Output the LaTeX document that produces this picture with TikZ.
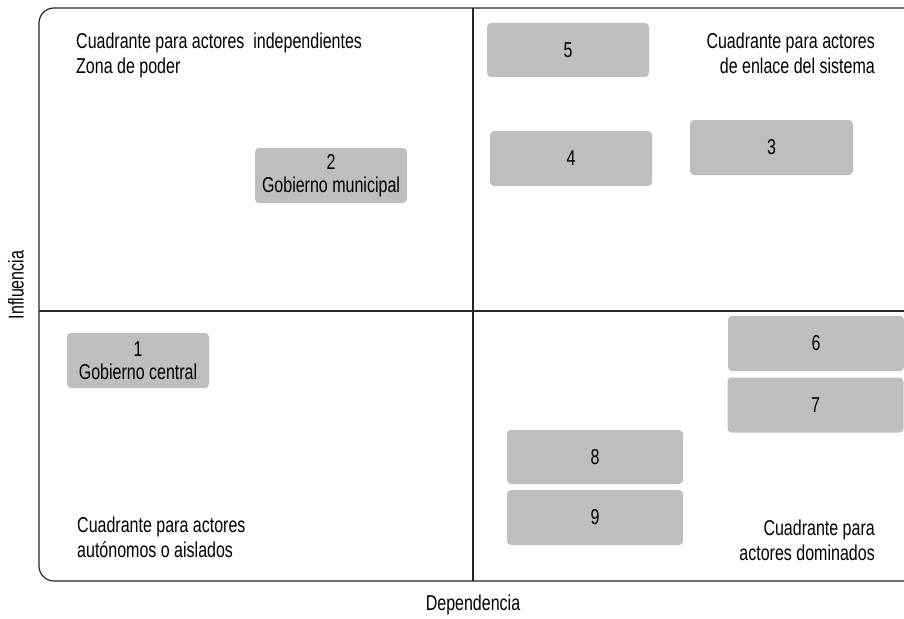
\documentclass[tikz,border=0pt]{standalone}
\usepackage{fontspec}
\setmainfont[FakeStretch=0.745]{Liberation Sans}
\begin{document}
\begin{tikzpicture}[x=1pt,y=-1pt,
  actor/.style={fill=boxgray,rounded corners=4pt,draw=none,inner sep=0pt,
    align=center,font=\fontsize{21.5}{23.5}\selectfont},
  lbl/.style={inner sep=0pt,font=\fontsize{21.5}{24.5}\selectfont},
  frame/.style={draw=black!85,line width=1.2pt}]
\definecolor{boxgray}{HTML}{BCBEC0}
\useasboundingbox (0,0) rectangle (904,618);
\begin{scope}
\clip (0,0) rectangle (904,618);
% frame
\draw[frame,rounded corners=15pt] (39,8) rectangle (918,581);
\coordinate (vtop) at (473,8);
\coordinate (vbot) at (473,581);
\coordinate (hl) at (39,311);
\coordinate (hr) at (918,311);
\draw[frame] (vtop) -- (vbot);
\draw[frame] (hl) -- (hr);
\end{scope}
% actors
\node[actor,minimum width=162pt,minimum height=54pt] (a5) at (568,50) {5};
\node[actor,minimum width=162pt,minimum height=55pt] (a4) at (571,158.5) {4};
\node[actor,minimum width=163pt,minimum height=55pt] (a3) at (771.5,147.5) {3};
\node[actor,minimum width=152pt,minimum height=55pt] (a2) at (331,175.5) {2\\Gobierno municipal};
\node[actor,minimum width=142pt,minimum height=55pt] (a1) at (138,360.5) {1\\Gobierno central};
\node[actor,minimum width=176pt,minimum height=55pt] (a6) at (816,343.5) {6};
\node[actor,minimum width=176pt,minimum height=55pt] (a7) at (815.5,405) {7};
\node[actor,minimum width=176pt,minimum height=54pt] (a8) at (595,457) {8};
\node[actor,minimum width=176pt,minimum height=55pt] (a9) at (595,517.5) {9};
% quadrant labels
\node[lbl,anchor=north west,align=left] (q1) at (76,33) {Cuadrante para actores\ \ independientes\\Zona de poder};
\node[lbl,anchor=north east,align=right] (q2) at (875,33) {Cuadrante para actores\\de enlace del sistema};
\node[lbl,anchor=north west,align=left] (q3) at (77,517) {Cuadrante para actores\\autónomos o aislados};
\node[lbl,anchor=north east,align=right] (q4) at (875,520) {Cuadrante para\\actores dominados};
% axes
\node[lbl] (dep) at (473,605) {Dependencia};
\node[lbl,rotate=90] (inf) at (16,285) {Influencia};
\end{tikzpicture}
\end{document}
